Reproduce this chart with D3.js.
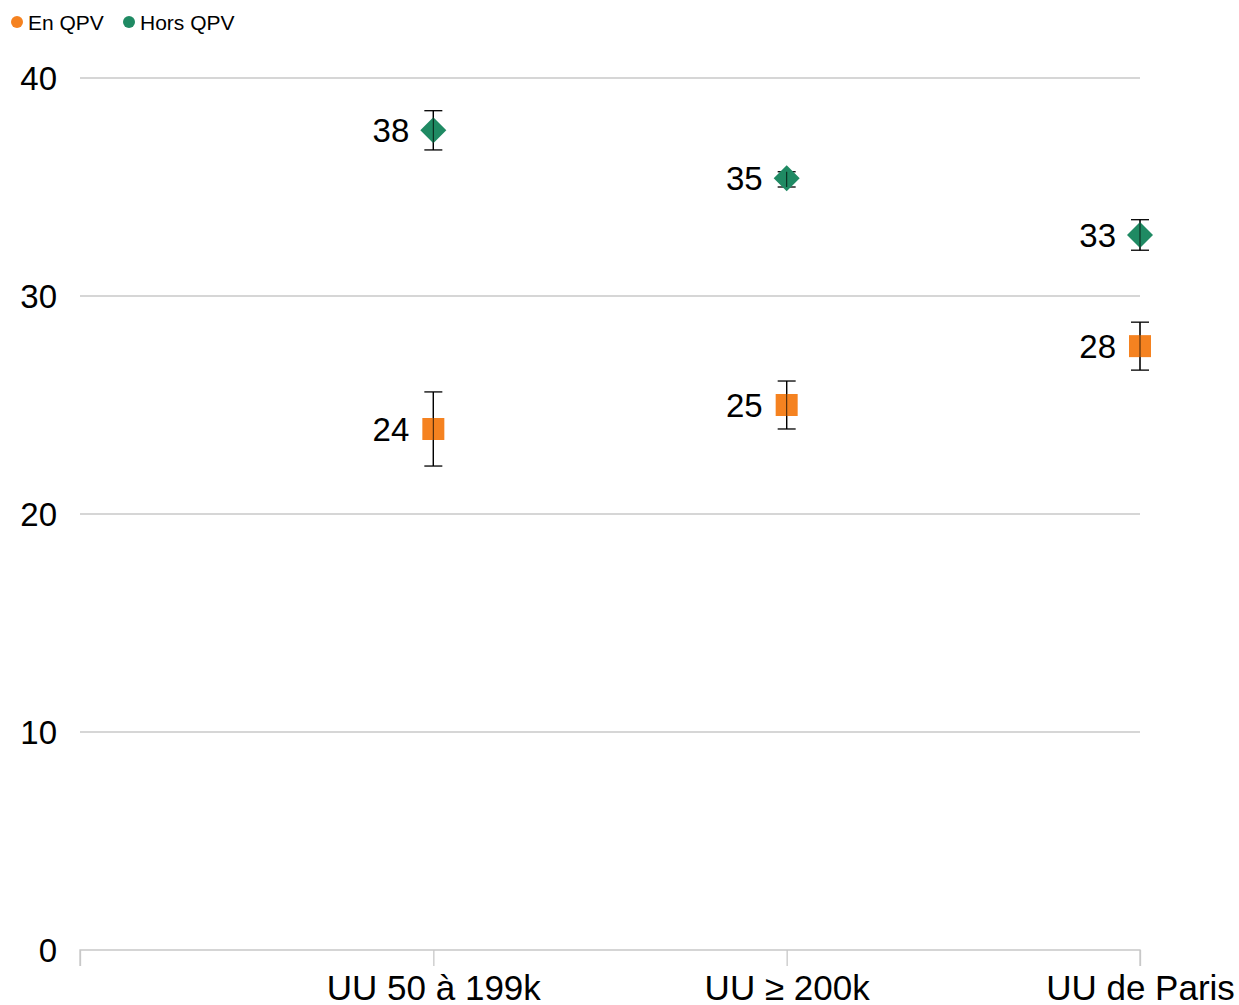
<!DOCTYPE html>
<html>
<head>
<meta charset="utf-8">
<script src="https://cdn.jsdelivr.net/npm/d3@7"></script>
<style>
  body { margin: 0; background: #fff; }
  text { font-family: "Liberation Sans", Arial, sans-serif; fill: #000; }
</style>
</head>
<body>
<div id="chart"></div>
<script>
// categories (first slot is empty in the original chart)
const categories = ["", "UU 50 à 199k", "UU ≥ 200k", "UU de Paris"]
const plotted = ["UU 50 à 199k", "UU ≥ 200k", "UU de Paris"]

const enQpv = [23.9, 25.0, 27.7]
const enQpvLow = [22.2, 23.9, 26.6]
const enQpvHigh = [25.6, 26.1, 28.8]
const enQpvLabels = ["24", "25", "28"]

const horsQpv = [37.6, 35.4, 32.8]
const horsQpvLow = [36.7, 35.0, 32.1]
const horsQpvHigh = [38.5, 35.7, 33.5]
const horsQpvLabels = ["38", "35", "33"]

const yTicks = [0, 10, 20, 30, 40]

const width = 1239, height = 1005
const margin = {top: 78, right: 99, bottom: 55, left: 80}

const svg = d3.select('#chart')
              .append('svg')
              .attr('width', width)
              .attr('height', height)

const x = d3.scalePoint().domain(categories).range([margin.left, width - margin.right])
const y = d3.scaleLinear().domain([0, 40]).range([height - margin.bottom, margin.top])

// gridlines
svg.append('g')
   .selectAll('line')
   .data(yTicks.filter(d => d > 0))
   .enter()
   .append('line')
   .attr('x1', margin.left)
   .attr('x2', width - margin.right)
   .attr('y1', d => y(d))
   .attr('y2', d => y(d))
   .attr('stroke', '#c8c8c8')
   .attr('stroke-width', 1.3)

// y labels
svg.append('g')
   .selectAll('text')
   .data(yTicks)
   .enter()
   .append('text')
   .attr('x', 57)
   .attr('y', d => y(d) + 12)
   .attr('text-anchor', 'end')
   .attr('font-size', 33)
   .text(d => d)

// x axis
const xAxis = d3.axisBottom(x).tickSize(16).tickPadding(9)
const gx = svg.append('g')
   .attr('transform', `translate(0,${y(0)})`)
   .call(xAxis)
gx.select('.domain').attr('stroke', '#c8c8c8').attr('stroke-width', 1.3)
  .attr('d', `M${margin.left},16V0H${width - margin.right}V16`)
gx.selectAll('.tick line').attr('stroke', '#c8c8c8').attr('stroke-width', 1.3)
gx.selectAll('.tick text')
  .attr('font-size', 35)
  .attr('font-family', '"Liberation Sans", Arial, sans-serif')
  .attr('fill', '#000')

const drawSeries = (vals, lows, highs, labels, color, shape) => {
  const g = svg.append('g')
  // error bars
  plotted.forEach((c, i) => {
    const cx = x(c)
    g.append('line').attr('x1', cx).attr('x2', cx).attr('y1', y(lows[i])).attr('y2', y(highs[i]))
     .attr('stroke', '#000').attr('stroke-width', 1.3)
    ;[lows[i], highs[i]].forEach(v => {
      g.append('line').attr('x1', cx - 9).attr('x2', cx + 9).attr('y1', y(v)).attr('y2', y(v))
       .attr('stroke', '#000').attr('stroke-width', 1.3)
    })
  })
  // markers
  g.selectAll('path.marker')
   .data(plotted)
   .enter()
   .append('path')
   .attr('class', 'marker')
   .attr('transform', (c, i) => `translate(${x(c)},${y(vals[i])})`)
   .attr('d', shape === 'square'
        ? 'M-11,-11H11V11H-11Z'
        : 'M0,-13L13,0L0,13L-13,0Z')
   .attr('fill', color)
  // error bar center line over markers
  plotted.forEach((c, i) => {
    const cx = x(c)
    g.append('line').attr('x1', cx).attr('x2', cx).attr('y1', y(lows[i])).attr('y2', y(highs[i]))
     .attr('stroke', '#000').attr('stroke-width', 1.1).attr('opacity', 0.7)
  })
  // data labels
  g.selectAll('text')
   .data(plotted)
   .enter()
   .append('text')
   .attr('x', c => x(c) - 24)
   .attr('y', (c, i) => y(vals[i]) + 12)
   .attr('text-anchor', 'end')
   .attr('font-size', 33)
   .text((c, i) => labels[i])
}

drawSeries(enQpv, enQpvLow, enQpvHigh, enQpvLabels, '#f58220', 'square')
drawSeries(horsQpv, horsQpvLow, horsQpvHigh, horsQpvLabels, '#1f8a63', 'diamond')

// legend
const legend = [{name: 'En QPV', color: '#f58220', x: 17}, {name: 'Hors QPV', color: '#1f8a63', x: 129}]
const lg = svg.append('g')
lg.selectAll('circle').data(legend).enter().append('circle')
  .attr('cx', d => d.x).attr('cy', 22).attr('r', 6).attr('fill', d => d.color)
lg.selectAll('text').data(legend).enter().append('text')
  .attr('x', d => d.x + 11).attr('y', 30).attr('font-size', 21).text(d => d.name)
</script>
</body>
</html>
